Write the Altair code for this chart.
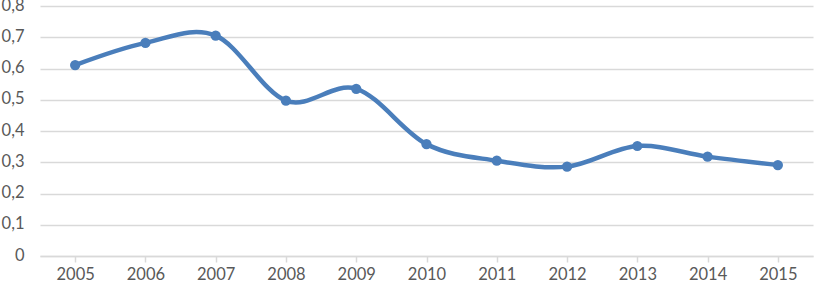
import altair as alt
import pandas as pd

years = ["2005", "2006", "2007", "2008", "2009", "2010", "2011", "2012", "2013", "2014", "2015"]
values = [0.611, 0.682, 0.705, 0.497, 0.535, 0.358, 0.305, 0.286, 0.352, 0.318, 0.291]

df = pd.DataFrame({"year": years, "value": values})

FONT = "Lato"
TXT = "#595959"
BLUE = "#4a7ebb"

x = alt.X(
    "year:O",
    sort=years,
    title=None,
    scale=alt.Scale(type="point", padding=0.5),
    axis=alt.Axis(
        labelAngle=0,
        domainColor="#d9d9d9",
        domainWidth=1.5,
        tickColor="#d9d9d9",
        tickSize=6,
        tickWidth=1.5,
        labelPadding=4,
        labelFont=FONT,
        labelFontSize=16.5,
        labelColor=TXT,
        grid=False,
    ),
)
y = alt.Y(
    "value:Q",
    title=None,
    scale=alt.Scale(domain=[0, 0.8], nice=False),
    axis=alt.Axis(
        values=[0, 0.1, 0.2, 0.3, 0.4, 0.5, 0.6, 0.7, 0.8],
        labelExpr="datum.value == 0 ? '0' : replace(format(datum.value, '.1f'), '.', ',')",
        domain=False,
        ticks=False,
        grid=True,
        gridColor="#d9d9d9",
        gridWidth=1.5,
        labelPadding=16,
        labelFont=FONT,
        labelFontSize=16.5,
        labelColor=TXT,
        labelOffset=-1,
    ),
)

line = alt.Chart(df).mark_line(
    interpolate="cardinal", color=BLUE, strokeWidth=4.5
).encode(x=x, y=y)

pts = alt.Chart(df).mark_point(
    filled=True, color=BLUE, size=105, opacity=1
).encode(x=x, y=y)

chart = (
    alt.layer(line, pts)
    .properties(
        width=773,
        height=250,
        autosize=alt.AutoSizeParams(type="none"),
        padding={"left": 40, "top": 6, "right": 2, "bottom": 31},
        background="white",
    )
    .configure_view(stroke=None)
)

chart.save("out.html", embed_options={"renderer": "svg", "actions": False})
